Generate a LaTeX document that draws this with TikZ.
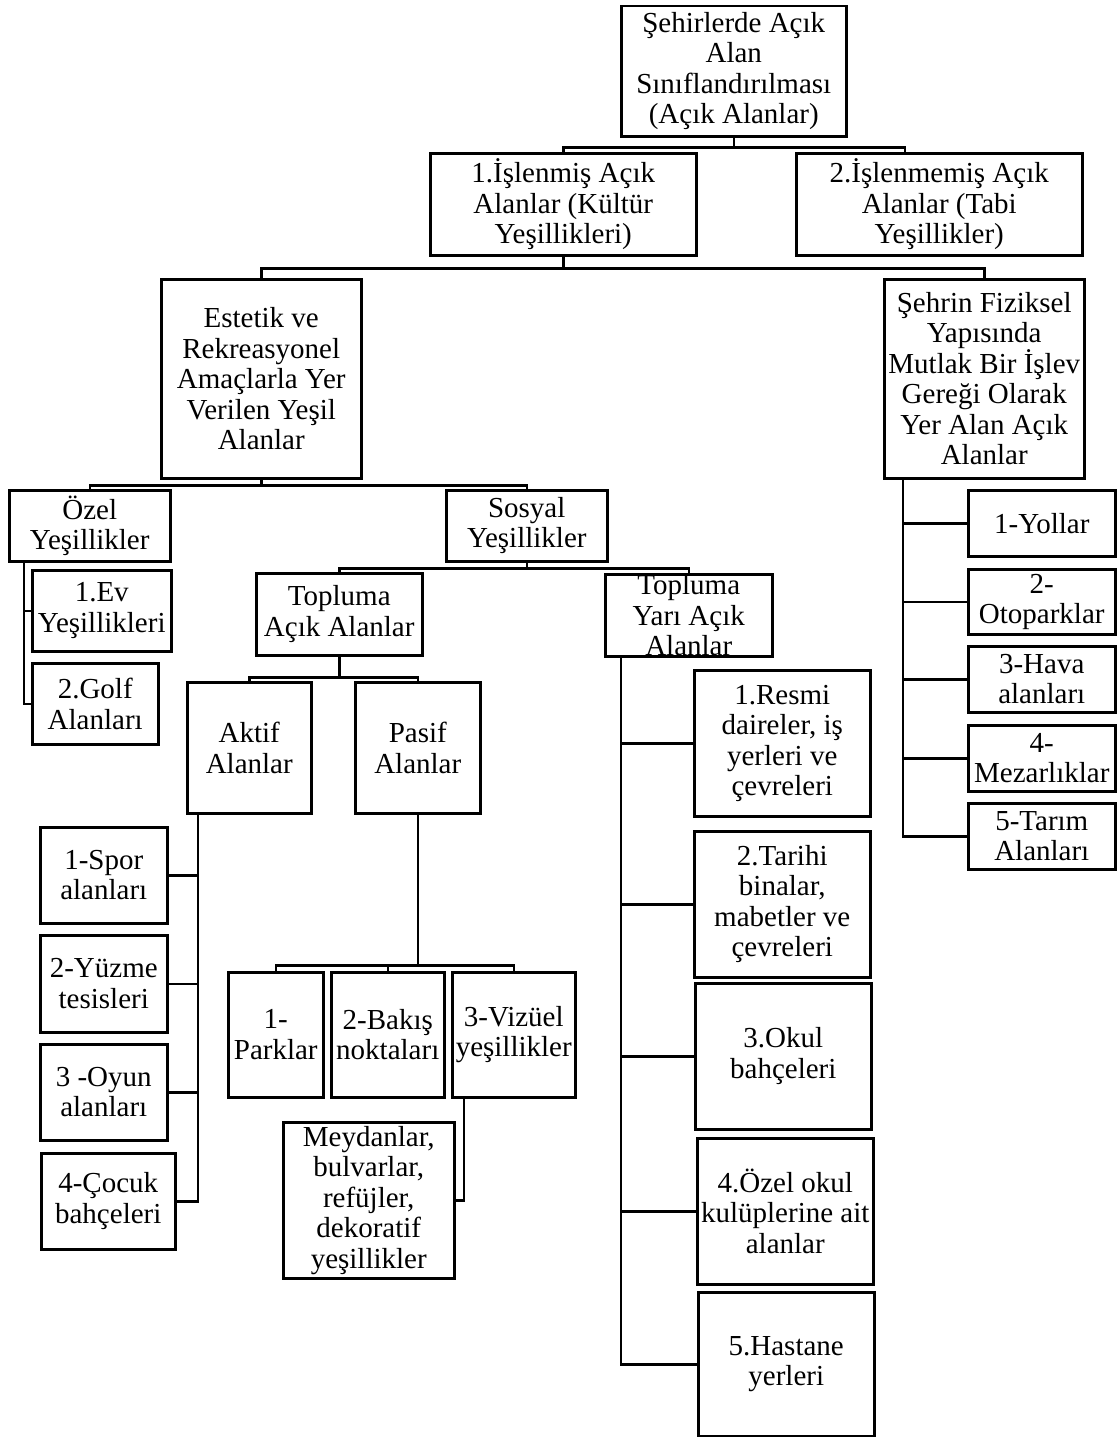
\documentclass[tikz,border=0pt]{standalone}
\usepackage{fontspec}
\setmainfont{Liberation Serif}
\usepackage{tikz}
\usetikzlibrary{positioning,calc}

\begin{document}
\begin{tikzpicture}[
    x=1pt, y=-1pt,
    box/.style={rectangle, draw=black, line width=2.5pt, anchor=north west, inner sep=0pt, align=center, font=\fontsize{29}{30.5}\selectfont},
    conn/.style={draw=black, line width=2.5pt}
]
\useasboundingbox (0,0) rectangle (1117,1437);
\fill[white] (0,0) rectangle (1117,1437);

% Root and first level
\node (root) [box, minimum width=225pt, minimum height=130pt] at (620,5) {Şehirlerde Açık\\Alan\\Sınıflandırılması\\(Açık Alanlar)};
\node (isl) [box, minimum width=266pt, minimum height=102pt] at (429,152) {1.İşlenmiş Açık\\Alanlar (Kültür\\Yeşillikleri)};
\node (islm) [box, minimum width=286pt, minimum height=102pt] at (795,152) {2.İşlenmemiş Açık\\Alanlar (Tabi\\Yeşillikler)};

% Second level
\node (estetik) [box, minimum width=200pt, minimum height=199pt] at (160,278) {Estetik ve\\Rekreasyonel\\Amaçlarla Yer\\Verilen Yeşil\\Alanlar};
\node (sehrin) [box, minimum width=200pt, minimum height=199pt] at (883,278) {Şehrin Fiziksel\\Yapısında\\Mutlak Bir İşlev\\Gereği Olarak\\Yer Alan Açık\\Alanlar};

% Green areas
\node (ozel) [box, minimum width=161pt, minimum height=71pt] at (8,489) {Özel\\Yeşillikler};
\node (sosyal) [box, minimum width=161pt, minimum height=71pt] at (445,489) {Sosyal\\Yeşillikler};
\node (ev) [box, minimum width=139pt, minimum height=81pt] at (31,569) {1.Ev\\Yeşillikleri};
\node (golf) [box, minimum width=126pt, minimum height=81pt] at (31,662) {2.Golf\\Alanları};

% Social green areas
\node (topacik) [box, minimum width=166pt, minimum height=82pt] at (255,572) {Topluma\\Açık Alanlar};
\node (topyari) [box, minimum width=167pt, minimum height=82pt] at (604,573) {Topluma\\Yarı Açık\\Alanlar};
\node (aktif) [box, minimum width=124pt, minimum height=131pt] at (186,681) {Aktif\\Alanlar};
\node (pasif) [box, minimum width=125pt, minimum height=131pt] at (354,681) {Pasif\\Alanlar};

% Active areas
\node (spor) [box, minimum width=127pt, minimum height=96pt] at (39,826) {1-Spor\\alanları};
\node (yuzme) [box, minimum width=127pt, minimum height=97pt] at (39,934) {2-Yüzme\\tesisleri};
\node (oyun) [box, minimum width=127pt, minimum height=96pt] at (39,1043) {3 -Oyun\\alanları};
\node (cocuk) [box, minimum width=134pt, minimum height=96pt] at (40,1152) {4-Çocuk\\bahçeleri};

% Passive areas
\node (parklar) [box, minimum width=95pt, minimum height=125pt] at (227,971) {1-\\Parklar};
\node (bakis) [box, minimum width=113pt, minimum height=125pt] at (330,971) {2-Bakış\\noktaları};
\node (vizuel) [box, minimum width=123pt, minimum height=125pt] at (451,971) {3-Vizüel\\yeşillikler};
\node (meydan) [box, minimum width=171pt, minimum height=156pt] at (282,1121) {Meydanlar,\\bulvarlar,\\refüjler,\\dekoratif\\yeşillikler};

% Semi-open areas
\node (resmi) [box, minimum width=176pt, minimum height=146pt] at (693,669) {1.Resmi\\daireler, iş\\yerleri ve\\çevreleri};
\node (tarihi) [box, minimum width=176pt, minimum height=146pt] at (693,830) {2.Tarihi\\binalar,\\mabetler ve\\çevreleri};
\node (okul) [box, minimum width=176pt, minimum height=146pt] at (694,982) {3.Okul\\bahçeleri};
\node (ozelokul) [box, minimum width=176pt, minimum height=146pt] at (696,1137) {4.Özel okul\\kulüplerine ait\\alanlar};
\node (hastane) [box, minimum width=176pt, minimum height=144pt] at (697,1291) {5.Hastane\\yerleri};

% Functional open areas
\node (yollar) [box, minimum width=147pt, minimum height=66pt] at (967,489) {1-Yollar};
\node (oto) [box, minimum width=147pt, minimum height=65pt] at (967,568) {2-\\Otoparklar};
\node (hava) [box, minimum width=147pt, minimum height=66pt] at (967,645) {3-Hava\\alanları};
\node (mezar) [box, minimum width=147pt, minimum height=66pt] at (967,724) {4-\\Mezarlıklar};
\node (tarim) [box, minimum width=147pt, minimum height=66pt] at (967,802) {5-Tarım\\Alanları};

% Connectors
\draw[conn] (root.south) -- ++(0,10) coordinate (j1);
\draw[conn] (isl.north) |- (j1) -| ([xshift=110pt]islm.north west);
\draw[conn] (isl.south) -- ++(0,12) coordinate (j2);
\draw[conn] (estetik.north) |- (j2) -| (sehrin.north);
\draw[conn] (estetik.south) -- ++(0,6) coordinate (j3);
\draw[conn] (ozel.north) |- (j3) -| (sosyal.north);
\draw[conn] ([xshift=16pt]ozel.south west) |- (ev.west);
\draw[conn] ([xshift=16pt]ozel.south west) |- (golf.west);
\draw[conn] (sosyal.south) -- ++(0,6) coordinate (j4);
\draw[conn] (topacik.north) |- (j4) -| (topyari.north);
\draw[conn] (topacik.south) -- ++(0,21) coordinate (j5);
\draw[conn] (aktif.north) |- (j5) -| (pasif.north);
\draw[conn] ([xshift=12pt]aktif.south west) |- (spor.east);
\draw[conn] ([xshift=12pt]aktif.south west) |- (yuzme.east);
\draw[conn] ([xshift=12pt]aktif.south west) |- (oyun.east);
\draw[conn] ([xshift=12pt]aktif.south west) |- (cocuk.east);
\draw[conn] (pasif.south) -- ++(0,151) coordinate (j6);
\draw[conn] (parklar.north) |- (j6) -| (vizuel.north);
\draw[conn] (bakis.north) -- (bakis.north |- j6);
\draw[conn] ([xshift=13pt]vizuel.south west) |- (meydan.east);
\draw[conn] ([xshift=17pt]topyari.south west) |- (resmi.west);
\draw[conn] ([xshift=17pt]topyari.south west) |- (tarihi.west);
\draw[conn] ([xshift=17pt]topyari.south west) |- (okul.west);
\draw[conn] ([xshift=17pt]topyari.south west) |- (ozelokul.west);
\draw[conn] ([xshift=17pt]topyari.south west) |- (hastane.west);
\draw[conn] ([xshift=20pt]sehrin.south west) |- (yollar.west);
\draw[conn] ([xshift=20pt]sehrin.south west) |- (oto.west);
\draw[conn] ([xshift=20pt]sehrin.south west) |- (hava.west);
\draw[conn] ([xshift=20pt]sehrin.south west) |- (mezar.west);
\draw[conn] ([xshift=20pt]sehrin.south west) |- (tarim.west);

\end{tikzpicture}
\end{document}
